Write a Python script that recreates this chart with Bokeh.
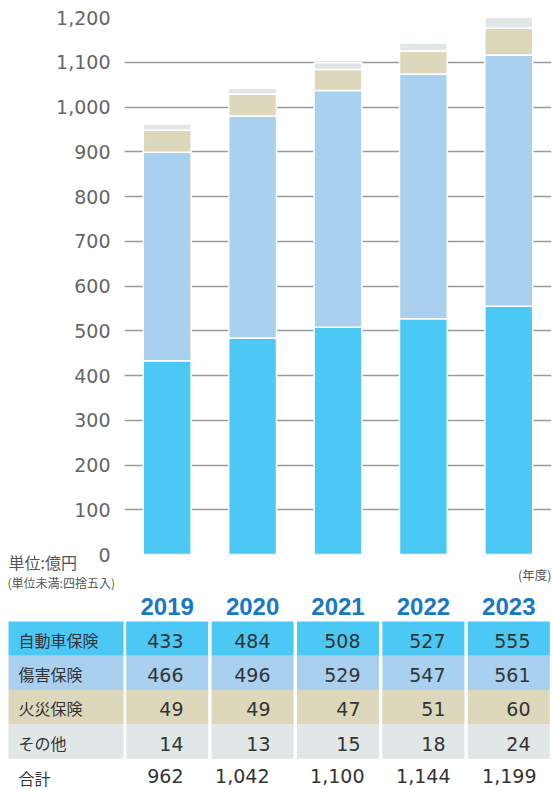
from bokeh.plotting import figure
from bokeh.models import ColumnDataSource, FixedTicker, Range1d, FactorRange, NumeralTickFormatter, Title
from bokeh.embed import file_html
from bokeh.resources import INLINE
from bokeh.core.properties import value

# ---------------- data ----------------
years = ["2019", "2020", "2021", "2022", "2023"]
auto = [433, 484, 508, 527, 555]
injury = [466, 496, 529, 547, 561]
fire = [49, 49, 47, 51, 60]
other = [14, 13, 15, 18, 24]
totals = [962, 1042, 1100, 1144, 1199]
series_labels = ["自動車保険", "傷害保険", "火災保険", "その他"]
total_label = "合計"
y_ticks = [0, 100, 200, 300, 400, 500, 600, 700, 800, 900, 1000, 1100, 1200]
unit_text = "単位:億円"
note_text = "(単位未満:四捨五入)"
year_unit_text = "(年度)"

# ---------------- style ----------------
colors = ["#4cc8f4", "#a9d0ef", "#ddd8bb", "#e1e6e6"]
CJK = "Noto Sans CJK JP"
NUM = "DejaVu Sans"
HEAD = "Liberation Sans"

FRAME_L, FRAME_R, FRAME_T, FRAME_B = 124, 551, 17, 554
SPLIT = 592  # page y where the chart canvas ends and the table canvas begins
YMAX = 1200
px_per_cat = (FRAME_R - FRAME_L) / len(years)

# ---------------- chart ----------------
src = ColumnDataSource(dict(year=years, auto=auto, injury=injury, fire=fire, other=other))

p = figure(width=553, height=SPLIT, x_range=FactorRange(*years), y_range=Range1d(0, YMAX),
           output_backend="svg", toolbar_location=None,
           min_border_left=FRAME_L, min_border_right=553 - FRAME_R, min_border_top=FRAME_T,
           min_border_bottom=SPLIT - FRAME_B)
p.vbar_stack(["auto", "injury", "fire", "other"], x="year", width=0.56, source=src,
             fill_color=colors, line_color="white", line_width=1.5)
p.xaxis.visible = False
p.xgrid.grid_line_color = None
p.outline_line_color = None
p.yaxis.ticker = FixedTicker(ticks=y_ticks)
p.ygrid.ticker = FixedTicker(ticks=y_ticks)
p.ygrid.grid_line_color = "#9a9a9a"
p.ygrid.grid_line_width = 1.5
p.yaxis.formatter = NumeralTickFormatter(format="0,0")
p.yaxis.axis_line_color = None
p.yaxis.major_tick_line_color = None
p.yaxis.minor_tick_line_color = None
p.yaxis.major_tick_out = 0
p.yaxis.major_label_standoff = 14
p.yaxis.major_label_text_font = NUM
p.yaxis.major_label_text_font_size = "19px"
p.yaxis.major_label_text_color = "#666666"

# notes under the chart: titles in the lower border (tight, negative standoffs)
p.add_layout(Title(text=unit_text, align="left", offset=8 - FRAME_L, vertical_align="top", standoff=-9,
                   text_font=CJK, text_font_size="16px", text_font_style="normal",
                   text_color="#555555"), "below")
p.add_layout(Title(text=year_unit_text, align="right", offset=0, vertical_align="top", standoff=-13.4,
                   text_font=CJK, text_font_size="12.5px", text_font_style="normal",
                   text_color="#555555"), "below")
p.add_layout(Title(text=note_text, align="left", offset=7 - FRAME_L, vertical_align="top", standoff=-11,
                   text_font=CJK, text_font_size="12px", text_font_style="normal",
                   text_color="#555555"), "below")

# ---------------- table ----------------
t = figure(width=553, height=789 - SPLIT, x_range=Range1d(0, 553), y_range=Range1d(789, SPLIT),
           x_axis_type=None, y_axis_type=None, output_backend="svg", toolbar_location=None,
           min_border=0, min_border_left=0, min_border_right=0, min_border_top=0, min_border_bottom=0)
t.outline_line_color = None
t.xgrid.visible = False
t.ygrid.visible = False

col_centers = [FRAME_L + px_per_cat * (i + 0.5) for i in range(len(years))]
row_top0, row_h = 621.0, 34.3
num_right = [183, 270, 360, 445, 530]
tot_right = [183, 269, 364, 450, 536]

rows = [auto, injury, fire, other]

cx, cy, cw, ch, cc = [], [], [], [], []
lx, ly, ltxt = [], [], []
nx, ny, ntxt = [], [], []
for r, vals in enumerate(rows):
    yc = row_top0 + row_h * (r + 0.5)
    cx.append(65.5); cy.append(yc); cw.append(115); ch.append(row_h); cc.append(colors[r])
    lx.append(18); ly.append(yc + 1); ltxt.append(series_labels[r])
    for i, v in enumerate(vals):
        cx.append(col_centers[i]); cy.append(yc); cw.append(82); ch.append(row_h); cc.append(colors[r])
        nx.append(num_right[i]); ny.append(yc + 2); ntxt.append(f"{v:,}")

t.rect(x="x", y="y", width="w", height="h", fill_color="c", line_color=None,
       source=ColumnDataSource(dict(x=cx, y=cy, w=cw, h=ch, c=cc)))

t.text(x="x", y="y", text="t", source=ColumnDataSource(dict(x=lx, y=ly, t=ltxt)),
       text_font=value(CJK), text_font_size="16px", text_color="#333333",
       text_baseline="middle", text_align="left")

t.text(x="x", y="y", text="t", source=ColumnDataSource(dict(x=nx, y=ny, t=ntxt)),
       text_font=value(NUM), text_font_size="19px", text_color="#333333",
       text_baseline="middle", text_align="right")

t.text(x=[18], y=[777.5], text=[total_label], text_font=value(CJK), text_font_size="16px",
       text_color="#333333", text_baseline="middle", text_align="left")
t.text(x="x", y="y", text="t",
       source=ColumnDataSource(dict(x=tot_right, y=[775.5] * len(totals), t=[f"{v:,}" for v in totals])),
       text_font=value(NUM), text_font_size="19px", text_color="#333333",
       text_baseline="middle", text_align="right")

t.text(x="x", y="y", text="t",
       source=ColumnDataSource(dict(x=col_centers, y=[605.5] * len(years), t=years)),
       text_font=value(HEAD), text_font_size="24px", text_font_style="bold",
       text_color="#1a78c2", text_baseline="middle", text_align="center")

open("out.html", "w").write(file_html([p, t], INLINE))
